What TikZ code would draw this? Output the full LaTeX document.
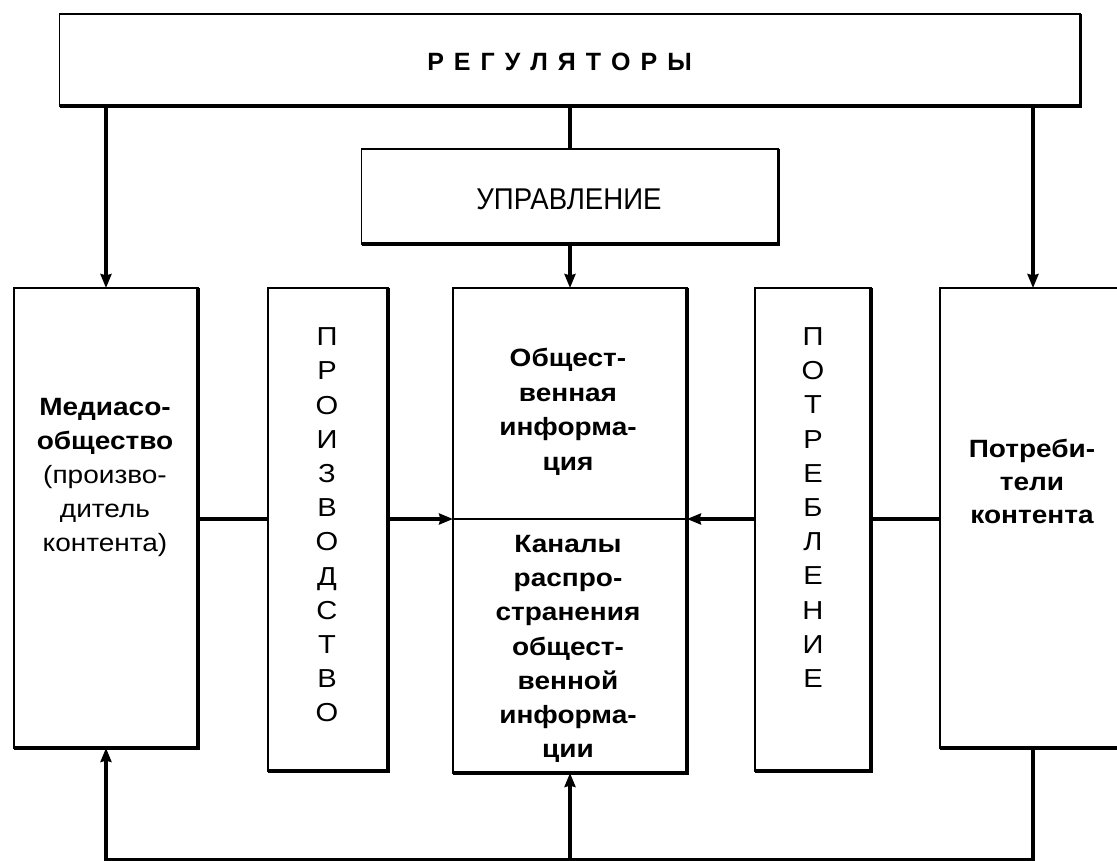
\documentclass[tikz,border=0pt]{standalone}
\usepackage{fontspec}
\setmainfont{Liberation Sans}
\newfontfamily\widefont[FakeStretch=1.12]{Liberation Sans}
\newfontfamily\narrowfont[FakeStretch=0.92]{Liberation Sans}
\usetikzlibrary{arrows.meta}
\tikzset{
  box/.style={draw=black, line width=1.5pt, fill=white, inner sep=0pt, outer sep=0pt},
  boxedge/.style={line width=3.5pt, line join=miter},
  conn/.style={line width=3.5pt},
  arr/.style={conn, -{Stealth[length=14pt,width=11pt,inset=1.5pt]}},
  txt/.style={align=center, inner sep=0pt, font=\widefont\fontsize{25}{34}\selectfont},
  vtxt/.style={align=center, inner sep=0pt, font=\widefont\fontsize{26}{34.2}\selectfont},
}
\begin{document}
\begin{tikzpicture}[x=1pt,y=-1pt]
\useasboundingbox (0,0) rectangle (1117,861);
\fill[white] (0,0) rectangle (1117,861);
\clip (0,0) rectangle (1117,861);

% boxes
\node[box, minimum width=1021pt, minimum height=92pt] (reg) at (570,60) {};
\node[box, minimum width=417pt, minimum height=95pt] (upr) at (570,196.5) {};
\node[box, minimum width=184pt, minimum height=460pt] (media) at (106,518) {};
\node[box, minimum width=120pt, minimum height=483pt] (proizv) at (328,529.5) {};
\node[box, minimum width=234pt, minimum height=485pt] (info) at (570,530.5) {};
\node[box, minimum width=116pt, minimum height=483pt] (potr) at (813,529.5) {};
\node[box, minimum width=186pt, minimum height=460pt] (cons) at (1033,518) {};

% heavier right and bottom edges
\foreach \b in {reg,upr,media,proizv,info,potr,cons}
  \draw[boxedge] (\b.north east) -- (\b.south east) -- (\b.south west);

% coordinates for connector levels
\coordinate (mid) at (0,519);
\coordinate (bl) at (106,860);
\coordinate (br) at (1033,860);

% divider in central box
\draw[line width=1.5pt] (info.west |- mid) -- (info.east |- mid);

% top connectors
\draw[arr] (reg.south -| media.north) -- (media.north);
\draw[conn] (reg.south -| upr.north) -- (upr.north);
\draw[arr] (upr.south) -- (info.north);
\draw[arr] (reg.south -| cons.north) -- (cons.north);

% middle connectors
\draw[conn] (media.east |- mid) -- (proizv.west |- mid);
\draw[arr] (proizv.east |- mid) -- (info.west |- mid);
\draw[conn] (cons.west |- mid) -- (potr.east |- mid);
\draw[arr] (potr.west |- mid) -- (info.east |- mid);

% bottom connectors
\draw[conn, line cap=rect] (bl) -- (br);
\draw[arr] (bl) -- (media.south);
\draw[arr] (bl -| info.south) -- (info.south);
\draw[conn] (br) -- (cons.south);

% texts
\node[inner sep=0pt, font=\bfseries\fontsize{25}{30}\selectfont] (treg) at (559.5,62)
  {Р\hspace{10pt}Е\hspace{10pt}Г\hspace{10pt}У\hspace{10pt}Л\hspace{10pt}Я\hspace{10pt}Т\hspace{10pt}О\hspace{10pt}Р\hspace{10pt}Ы};
\node[inner sep=0pt, font=\narrowfont\fontsize{30}{36}\selectfont] (tupr) at (569,199) {УПРАВЛЕНИЕ};
\node[txt] (tmedia) at (105,477.5) {\textbf{Медиасо-}\\\textbf{общество}\\(произво-\\дитель\\контента)};
\node[vtxt] (tproizv) at (327,525) {П\\Р\\О\\И\\З\\В\\О\\Д\\С\\Т\\В\\О};
\node[txt, font=\widefont\bfseries\fontsize{25}{34.5}\selectfont] (tinfo) at (568,412) {Общест-\\венная\\информа-\\ция};
\node[txt, font=\widefont\bfseries\fontsize{25}{34.2}\selectfont] (tchan) at (568,649) {Каналы\\распро-\\странения\\общест-\\венной\\информа-\\ции};
\node[vtxt] (tpotr) at (813,507.5) {П\\О\\Т\\Р\\Е\\Б\\Л\\Е\\Н\\И\\Е};
\node[txt, font=\widefont\bfseries\fontsize{25}{33}\selectfont] (tcons) at (1032,481) {Потреби-\\тели\\контента};
\end{tikzpicture}
\end{document}
